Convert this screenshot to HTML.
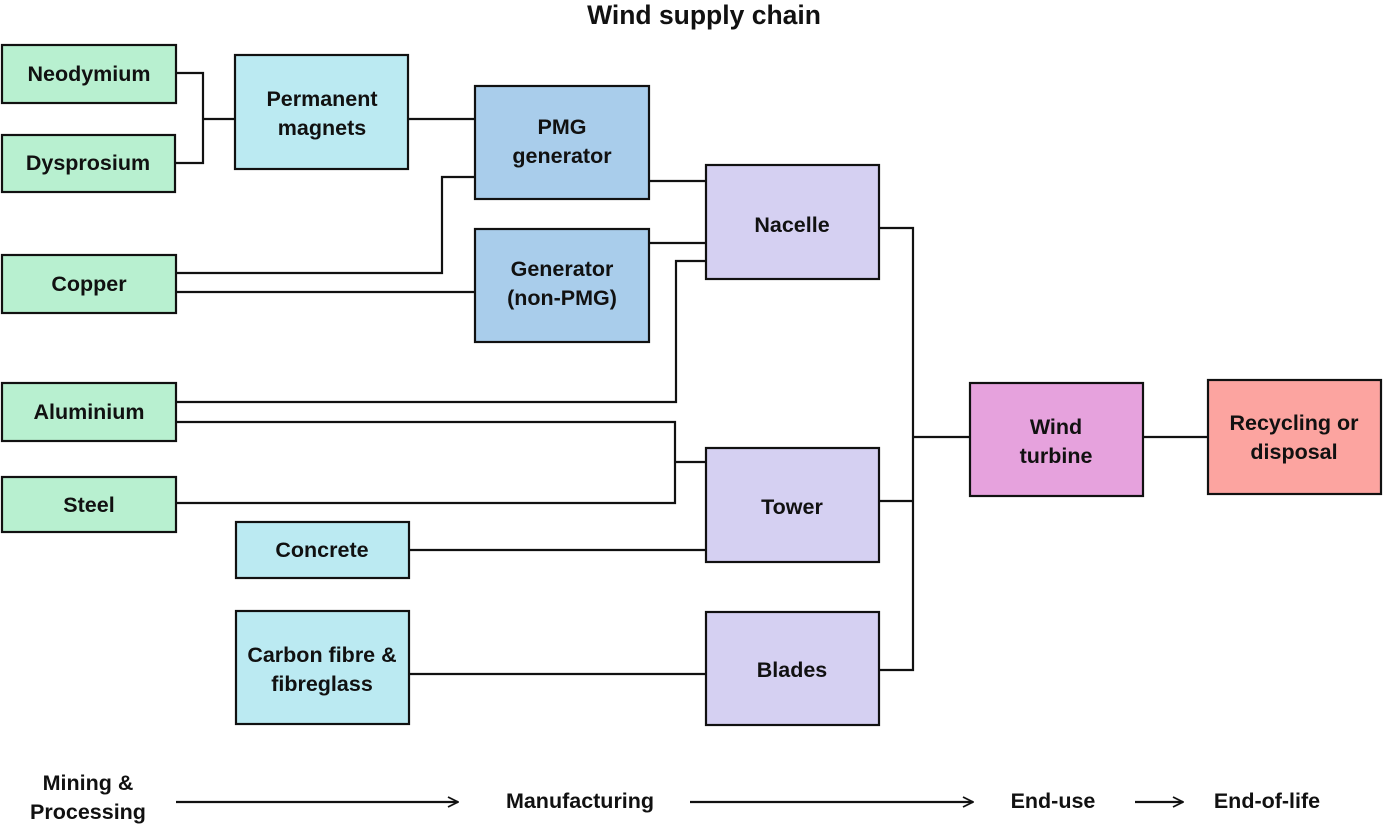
<!DOCTYPE html>
<html><head><meta charset="utf-8"><style>
body{margin:0;background:#fff}
svg text{font-family:"Liberation Sans",sans-serif;font-weight:bold;fill:#111;font-size:21.5px}
</style></head><body>
<svg width="1384" height="825" viewBox="0 0 1384 825" xmlns="http://www.w3.org/2000/svg">
<defs><marker id="a" viewBox="0 0 12 12" refX="11" refY="6" markerWidth="12" markerHeight="12" markerUnits="userSpaceOnUse" orient="auto"><path d="M1,1 L11,6 L1,11" fill="none" stroke="#111" stroke-width="1.8"/></marker></defs>
<g fill="none" stroke="#111" stroke-width="2.2">
<path d="M176,73H203V163H175M203,119H235"/>
<path d="M408,119H475"/>
<path d="M176,273H442V177H475M176,292H475"/>
<path d="M649,181H706M649,243H706"/>
<path d="M176,402H676V261H706"/>
<path d="M176,422H675V503H176M675,462H706"/>
<path d="M409,550H706M409,674H706"/>
<path d="M879,228H913V670H879M879,501H913M913,437H970M1143,437H1208"/>
<path d="M176,802H458" marker-end="url(#a)"/>
<path d="M690,802H973" marker-end="url(#a)"/>
<path d="M1135,802H1183" marker-end="url(#a)"/>
</g>
<g stroke="#111" stroke-width="2.2">
<rect x="2" y="45" width="174" height="58" fill="#b8f0d0"/>
<rect x="2" y="135" width="173" height="57" fill="#b8f0d0"/>
<rect x="2" y="255" width="174" height="58" fill="#b8f0d0"/>
<rect x="2" y="383" width="174" height="58" fill="#b8f0d0"/>
<rect x="2" y="477" width="174" height="55" fill="#b8f0d0"/>
<rect x="235" y="55" width="173" height="114" fill="#bbeaf2"/>
<rect x="236" y="522" width="173" height="56" fill="#bbeaf2"/>
<rect x="236" y="611" width="173" height="113" fill="#bbeaf2"/>
<rect x="475" y="86" width="174" height="113" fill="#a9cdeb"/>
<rect x="475" y="229" width="174" height="113" fill="#a9cdeb"/>
<rect x="706" y="165" width="173" height="114" fill="#d5d0f2"/>
<rect x="706" y="448" width="173" height="114" fill="#d5d0f2"/>
<rect x="706" y="612" width="173" height="113" fill="#d5d0f2"/>
<rect x="970" y="383" width="173" height="113" fill="#e6a2dd"/>
<rect x="1208" y="380" width="173" height="114" fill="#fca4a0"/>
</g>
<g text-anchor="middle">
<text x="704" y="24" style="font-size:26.5px">Wind supply chain</text>
<text x="89" y="81">Neodymium</text>
<text x="88" y="170">Dysprosium</text>
<text x="89" y="291">Copper</text>
<text x="89" y="419">Aluminium</text>
<text x="89" y="512">Steel</text>
<text x="322" y="106">Permanent</text><text x="322" y="135">magnets</text>
<text x="322" y="557">Concrete</text>
<text x="322" y="662">Carbon fibre &amp;</text><text x="322" y="691">fibreglass</text>
<text x="562" y="134">PMG</text><text x="562" y="163">generator</text>
<text x="562" y="276">Generator</text><text x="562" y="305">(non-PMG)</text>
<text x="792" y="232">Nacelle</text>
<text x="792" y="514">Tower</text>
<text x="792" y="677">Blades</text>
<text x="1056" y="434">Wind</text><text x="1056" y="463">turbine</text>
<text x="1294" y="430">Recycling or</text><text x="1294" y="459">disposal</text>
<text x="88" y="790">Mining &amp;</text><text x="88" y="819">Processing</text>
<text x="580" y="808">Manufacturing</text>
<text x="1053" y="808">End-use</text>
<text x="1267" y="808">End-of-life</text>
</g>
</svg>
</body></html>
